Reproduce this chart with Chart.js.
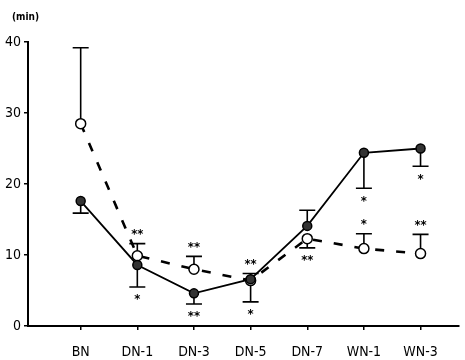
<!DOCTYPE html>
<html>
<head>
<meta charset="utf-8">
<script src="https://cdn.jsdelivr.net/npm/chart.js@4/dist/chart.umd.min.js"></script>
<style>
  html, body { margin: 0; padding: 0; background: #fff; }
  #wrap { position: relative; width: 465px; height: 360px; }
</style>
</head>
<body>
<div id="wrap"><canvas id="chart" width="465" height="360"></canvas></div>
<script>
// categories
const categories = ['BN', 'DN-1', 'DN-3', 'DN-5', 'DN-7', 'WN-1', 'WN-3'];
const yTicks = [0, 10, 20, 30, 40];

// filled circles, solid line
const filledValues = [17.6, 8.6, 4.6, 6.6, 14.1, 24.4, 25.0];
const filledErrEnd = [15.9, 5.5, 3.1, 3.4, 16.3, 19.4, 22.5];
const filledMarks  = ['', '*', '**', '*', '', '*', '*'];

// open circles, dashed line
const openValues = [28.5, 9.9, 8.0, 6.4, 12.3, 10.9, 10.2];
const openErrEnd = [39.2, 11.6, 9.8, 7.4, 11.0, 13.0, 12.9];
const openMarks  = ['', '**', '**', '**', '**', '*', '**'];

const FONT = '"DejaVu Sans Condensed", "DejaVu Sans", sans-serif';

const toPoints = vals => vals.map((v, i) => ({ x: i, y: v }));

// one-sided error bars with caps, plus significance asterisks
const errorBars = {
    id: 'errorBars',
    beforeDatasetsDraw(chart) {
        const { ctx, scales: { x, y } } = chart;
        ctx.save();
        ctx.strokeStyle = '#000';
        ctx.lineWidth = 1.6;
        chart.data.datasets.forEach(ds => {
            ds.errEnd.forEach((e, i) => {
                const px = x.getPixelForValue(i);
                const y0 = y.getPixelForValue(ds.data[i].y);
                const y1 = y.getPixelForValue(e);
                ctx.beginPath();
                ctx.moveTo(px, y0);
                ctx.lineTo(px, y1);
                ctx.moveTo(px - 8, y1);
                ctx.lineTo(px + 8, y1);
                ctx.stroke();
            });
        });
        ctx.restore();
    },
    afterDatasetsDraw(chart) {
        const { ctx, scales: { x, y } } = chart;
        ctx.save();
        ctx.fillStyle = '#000';
        ctx.font = 'bold 13px ' + FONT;
        ctx.textAlign = 'center';
        ctx.textBaseline = 'middle';
        chart.data.datasets.forEach(ds => {
            ds.marks.forEach((m, i) => {
                if (!m) return;
                const px = x.getPixelForValue(i);
                const e = ds.errEnd[i];
                const y1 = y.getPixelForValue(e);
                const dir = e < ds.data[i].y ? 1 : -1;
                ctx.fillText(m, px, y1 + dir * 11 + 2);
            });
        });
        ctx.restore();
    }
};

// "(min)" unit label
const unitLabel = {
    id: 'unitLabel',
    afterDraw(chart) {
        const { ctx } = chart;
        ctx.save();
        ctx.fillStyle = '#000';
        ctx.font = 'bold 10px ' + FONT;
        ctx.textAlign = 'left';
        ctx.textBaseline = 'middle';
        ctx.fillText('(min)', 12, 17);
        ctx.restore();
    }
};

new Chart(document.getElementById('chart'), {
    type: 'line',
    data: {
        datasets: [
            {
                label: 'filled',
                data: toPoints(filledValues),
                errEnd: filledErrEnd,
                marks: filledMarks,
                borderColor: '#000',
                borderWidth: 1.8,
                pointRadius: 4.5,
                pointBackgroundColor: '#333',
                pointBorderColor: '#000',
                pointBorderWidth: 1.5,
                tension: 0
            },
            {
                label: 'open',
                data: toPoints(openValues),
                errEnd: openErrEnd,
                marks: openMarks,
                borderColor: '#000',
                borderWidth: 2.6,
                borderDash: [9, 12],
                pointRadius: 5,
                pointBackgroundColor: '#fff',
                pointBorderColor: '#000',
                pointBorderWidth: 1.5,
                tension: 0
            }
        ]
    },
    options: {
        responsive: false,
        animation: false,
        layout: { padding: { top: 42, right: 5, left: 0, bottom: 0 } },
        plugins: {
            legend: { display: false },
            tooltip: { enabled: false }
        },
        scales: {
            x: {
                type: 'linear',
                min: -0.93,
                max: 6.67,
                afterBuildTicks: scale => {
                    scale.ticks = categories.map((_, i) => ({ value: i }));
                },
                afterFit: scale => { scale.height = 34; },
                grid: { display: true, drawOnChartArea: false, drawTicks: true, tickLength: 4, color: '#000', lineWidth: 1.5 },
                border: { display: true, color: '#000', width: 2 },
                ticks: {
                    color: '#000',
                    padding: 14,
                    maxRotation: 0,
                    autoSkip: false,
                    font: { family: FONT, size: 14 },
                    callback: v => categories[v]
                }
            },
            y: {
                min: 0,
                max: 40,
                afterBuildTicks: scale => {
                    scale.ticks = yTicks.map(v => ({ value: v }));
                },
                afterFit: scale => { scale.width = 28; },
                grid: { display: true, drawOnChartArea: false, drawTicks: true, tickLength: 4, color: '#000', lineWidth: 1.5 },
                border: { display: true, color: '#000', width: 2 },
                ticks: {
                    color: '#000',
                    padding: 3,
                    font: { family: FONT, size: 14 }
                }
            }
        }
    },
    plugins: [errorBars, unitLabel]
});
</script>
</body>
</html>
